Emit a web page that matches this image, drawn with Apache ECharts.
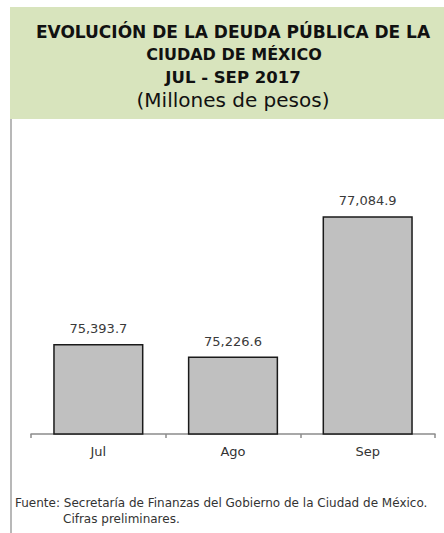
<!DOCTYPE html>
<html>
<head>
<meta charset="utf-8">
<script src="https://cdn.jsdelivr.net/npm/echarts@6/dist/echarts.min.js"></script>
<style>
html,body{margin:0;padding:0;background:#fff;}
#chart{width:444px;height:533px;}
</style>
</head>
<body>
<div id="chart"></div>
<script>
const categories = ['Jul', 'Ago', 'Sep'];
const deuda = [75393.7, 75226.6, 77084.9];
const titleLines = ['EVOLUCIÓN DE LA DEUDA PÚBLICA DE LA', 'CIUDAD DE MÉXICO', 'JUL - SEP 2017'];
const subtitle = '(Millones de pesos)';
const footLines = ['Fuente: Secretaría de Finanzas del Gobierno de la Ciudad de México.', 'Cifras preliminares.'];

const FONT = '"DejaVu Sans", "Open Sans", sans-serif';
const chart = echarts.init(document.getElementById('chart'), null, {renderer: 'svg'});

const fmt = v => v.toLocaleString('en-US', {minimumFractionDigits: 1, maximumFractionDigits: 1});

chart.setOption({
  animation: false,
  backgroundColor: '#ffffff',
  graphic: [
    {type: 'rect', z: 0, shape: {x: 10, y: 7, width: 434, height: 112}, style: {fill: '#d8e4bd'}},
    {type: 'line', z: 0, shape: {x1: 11, y1: 119, x2: 11, y2: 533}, style: {stroke: '#a0a0a0', lineWidth: 1.5}},
    {type: 'text', x: 233, y: 32, style: {text: titleLines[0], textAlign: 'center', textVerticalAlign: 'middle', font: 'bold 17px ' + FONT, fill: '#111'}},
    {type: 'text', x: 234, y: 54, style: {text: titleLines[1], textAlign: 'center', textVerticalAlign: 'middle', font: 'bold 16px ' + FONT, fill: '#111'}},
    {type: 'text', x: 233, y: 77, style: {text: titleLines[2], textAlign: 'center', textVerticalAlign: 'middle', font: 'bold 16.5px ' + FONT, fill: '#111'}},
    {type: 'text', x: 233, y: 100, style: {text: subtitle, textAlign: 'center', textVerticalAlign: 'middle', font: 'normal 20px ' + FONT, fill: '#111'}},
    {type: 'text', x: 15, y: 503, style: {text: footLines[0], textAlign: 'left', textVerticalAlign: 'middle', font: 'normal 12px ' + FONT, fill: '#333'}},
    {type: 'text', x: 63, y: 519, style: {text: footLines[1], textAlign: 'left', textVerticalAlign: 'middle', font: 'normal 12px ' + FONT, fill: '#333'}}
  ],
  grid: {left: 31, right: 9, top: 185, bottom: 99, containLabel: false},
  xAxis: {
    type: 'category',
    data: categories,
    axisLine: {lineStyle: {color: '#8c8c8c', width: 1.5}},
    axisTick: {show: true, length: 4, lineStyle: {color: '#8c8c8c', width: 1.5}},
    axisLabel: {color: '#333', fontSize: 13, fontFamily: FONT, margin: 11}
  },
  yAxis: {
    type: 'value',
    min: 74200,
    max: 77500,
    show: false,
    splitLine: {show: false}
  },
  series: [{
    type: 'bar',
    data: deuda,
    barCategoryGap: '33%',
    itemStyle: {color: '#c0c0c0', borderColor: '#1a1a1a', borderWidth: 1.5},
    label: {
      show: true,
      position: 'top',
      distance: 9,
      color: '#3a3a3a',
      fontSize: 13,
      fontFamily: FONT,
      formatter: p => fmt(p.value)
    }
  }]
});
</script>
</body>
</html>
